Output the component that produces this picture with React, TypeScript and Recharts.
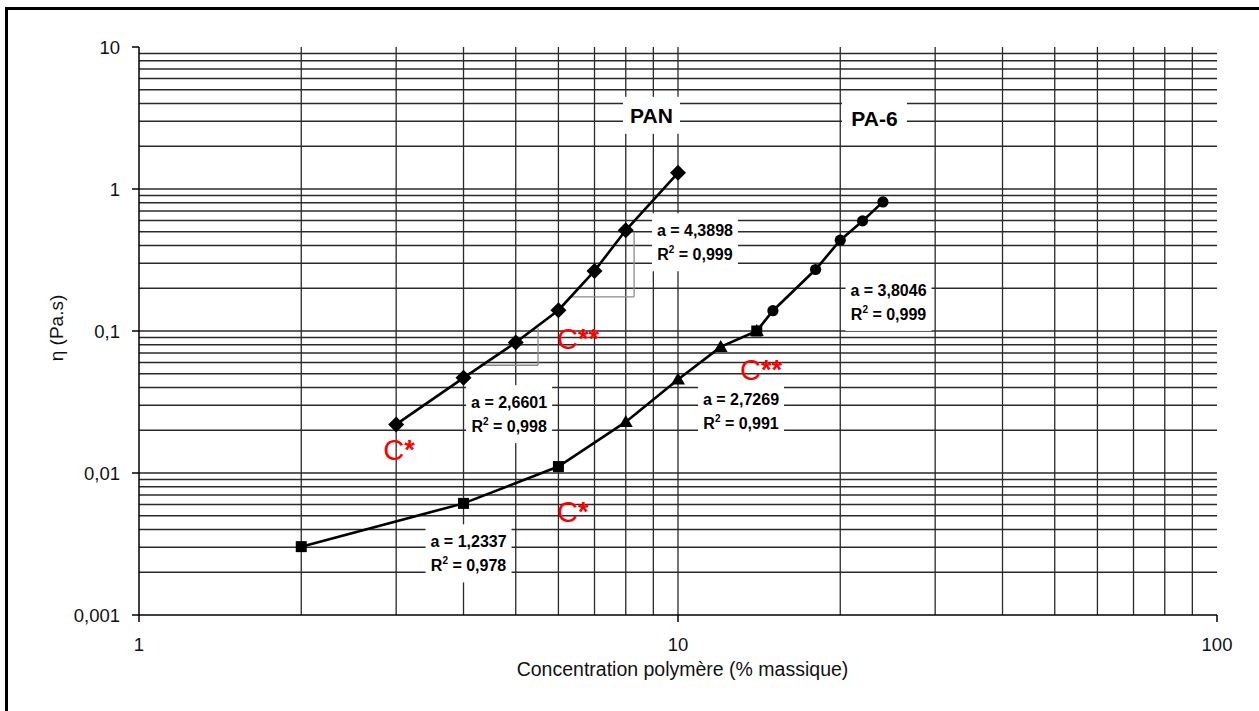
import React from 'react';
import {
  ComposedChart,
  Line,
  Scatter,
  XAxis,
  YAxis,
  ReferenceLine,
  ReferenceDot,
} from 'recharts';

// ---------- data ----------
const panConc = [3, 4, 5, 6, 7, 8, 10];
const panVisc = [0.022, 0.0468, 0.083, 0.14, 0.265, 0.512, 1.3];

const pa6SquareConc = [2, 4, 6, 14];
const pa6SquareVisc = [0.00303, 0.00611, 0.0111, 0.1];
const pa6TriangleConc = [8, 10, 12, 14];
const pa6TriangleVisc = [0.0229, 0.0456, 0.0773, 0.1];
const pa6CircleConc = [15, 18, 20, 22, 24];
const pa6CircleVisc = [0.139, 0.271, 0.436, 0.596, 0.811];

const xTicks = [1, 10, 100];
const yTicks = [0.001, 0.01, 0.1, 1, 10];
const xGrid = [2, 3, 4, 5, 6, 7, 8, 9, 10, 20, 30, 40, 50, 60, 70, 80, 90];
const yGrid = [
  0.002, 0.003, 0.004, 0.005, 0.006, 0.007, 0.008, 0.009,
  0.01, 0.02, 0.03, 0.04, 0.05, 0.06, 0.07, 0.08, 0.09,
  0.1, 0.2, 0.3, 0.4, 0.5, 0.6, 0.7, 0.8, 0.9,
  1, 2, 3, 4, 5, 6, 7, 8, 9,
];

// slope annotations (fit results)
const fitX = [10.75, 4.86, 4.087, 24.58, 13.09];
const fitY = [0.4216, 0.02597, 0.002717, 0.1602, 0.02696];
const fitA = ['4,3898', '2,6601', '1,2337', '3,8046', '2,7269'];
const fitR2 = ['0,999', '0,998', '0,978', '0,999', '0,991'];

// series names
const nameX = [8.93, 23.15];
const nameY = [3.302, 3.119];
const nameText = ['PAN', 'PA-6'];

// critical concentration markers
const critX = [2.838, 5.965, 5.965, 13.03];
const critY = [0.01233, 0.004535, 0.07528, 0.04506];
const critStars = ['*', '*', '**', '**'];

// slope triangles (PAN)
const slope1 = [
  [4.29, 0.0574],
  [5.5, 0.0574],
  [5.5, 0.1046],
];
const slope2 = [
  [6.3, 0.174],
  [8.29, 0.174],
  [8.29, 0.498],
];

const toPoints = (xs: number[], ys: number[]) => xs.map((x, i) => ({ x, y: ys[i] }));

const panData = toPoints(panConc, panVisc);
const pa6Squares = toPoints(pa6SquareConc, pa6SquareVisc);
const pa6Triangles = toPoints(pa6TriangleConc, pa6TriangleVisc);
const pa6Circles = toPoints(pa6CircleConc, pa6CircleVisc);
const pa6Line = [...pa6Squares, ...pa6Triangles, ...pa6Circles]
  .filter((p, i, arr) => arr.findIndex((q) => q.x === p.x) === i)
  .sort((a, b) => a.x - b.x);

const FONT = '"Liberation Sans", Arial, sans-serif';
const GRID = '#2a2a2a';

const Diamond = (p: any) => {
  const { cx, cy } = p;
  const s = 8;
  return <polygon points={`${cx},${cy - s} ${cx + s},${cy} ${cx},${cy + s} ${cx - s},${cy}`} fill="#000" />;
};
const Square = (p: any) => <rect x={p.cx - 5.5} y={p.cy - 5.5} width={11} height={11} fill="#000" />;
const Triangle = (p: any) => {
  const { cx, cy } = p;
  return <polygon points={`${cx},${cy - 7} ${cx + 7},${cy + 5} ${cx - 7},${cy + 5}`} fill="#000" />;
};
const Circle = (p: any) => <circle cx={p.cx} cy={p.cy} r={5.6} fill="#000" />;

const fitLabel = (i: number) => (p: any) => {
  const { cx, cy } = p;
  const w = 86;
  const h = 58;
  return (
    <g>
      <rect x={cx - w / 2} y={cy - h / 2} width={w} height={h} fill="#fff" />
      <text x={cx} y={cy - 12} dy="0.35em" textAnchor="middle" fontFamily={FONT} fontSize={16} fontWeight="bold" fill="#000">
        {`a = ${fitA[i]}`}
      </text>
      <text x={cx} y={cy + 12} dy="0.35em" textAnchor="middle" fontFamily={FONT} fontSize={16} fontWeight="bold" fill="#000">
        R<tspan fontSize={10} dy={-7}>2</tspan>
        <tspan dy={7}>{` = ${fitR2[i]}`}</tspan>
      </text>
    </g>
  );
};

const nameLabel = (i: number) => (p: any) => {
  const { cx, cy } = p;
  const w = i === 0 ? 57 : 65;
  const h = 37;
  return (
    <g>
      <rect x={cx - w / 2} y={cy - h / 2} width={w} height={h} fill="#fff" />
      <text x={cx} y={cy} dy="0.35em" textAnchor="middle" fontFamily={FONT} fontSize={21} fontWeight="bold" fill="#000">
        {nameText[i]}
      </text>
    </g>
  );
};

const critLabel = (i: number) => (p: any) => (
  <text x={p.cx} y={p.cy} textAnchor="start" fontFamily={FONT} fontSize={29} fill="#ff0000">
    C<tspan fontSize={27} fontWeight="bold" dy={-1}>{critStars[i]}</tspan>
  </text>
);

export default function App() {
  return (
    <div style={{ position: 'absolute', left: 0, top: 0, width: 1259, height: 711, overflow: 'hidden', background: '#fff' }}>
      <div
        style={{
          position: 'absolute',
          left: 5,
          top: 7,
          width: 1400,
          height: 900,
          borderLeft: '3px solid #000',
          borderTop: '3px solid #000',
        }}
      />
      <div style={{ position: 'absolute', left: 0, top: 0 }}>
        <ComposedChart width={1259} height={711} margin={{ top: 47, right: 42, bottom: 66, left: 79 }}>
          <XAxis
            dataKey="x"
            type="number"
            scale="log"
            domain={[1, 100]}
            allowDataOverflow
            ticks={xTicks}
            height={30}
            tickSize={7}
            tickMargin={16}
            axisLine={{ stroke: '#000', strokeWidth: 1.5 }}
            tickLine={{ stroke: '#000', strokeWidth: 1.5 }}
            tick={{ fontFamily: FONT, fontSize: 18.5, fill: '#111' }}
          />
          <YAxis
            dataKey="y"
            type="number"
            scale="log"
            domain={[0.001, 10]}
            allowDataOverflow
            ticks={yTicks}
            width={60}
            tickSize={7}
            tickMargin={12}
            tickFormatter={(v: number) => String(v).replace('.', ',')}
            axisLine={{ stroke: '#000', strokeWidth: 1.5 }}
            tickLine={{ stroke: '#000', strokeWidth: 1.5 }}
            tick={{ fontFamily: FONT, fontSize: 18.5, fill: '#111' }}
          />

          {yGrid.map((v) => (
            <ReferenceLine key={`hy${v}`} y={v} stroke={GRID} strokeWidth={1.3} />
          ))}
          {xGrid.map((v) => (
            <ReferenceLine key={`vx${v}`} x={v} stroke={GRID} strokeWidth={1.3} />
          ))}

          {[slope1, slope2].map((s, k) =>
            [0, 1].map((j) => (
              <ReferenceLine
                key={`s${k}${j}`}
                segment={[
                  { x: s[j][0], y: s[j][1] },
                  { x: s[j + 1][0], y: s[j + 1][1] },
                ]}
                stroke="#8a8a8a"
                strokeWidth={1.3}
              />
            ))
          )}

          {fitX.map((x, i) => (
            <ReferenceDot key={`f${i}`} x={x} y={fitY[i]} r={0} shape={fitLabel(i)} />
          ))}
          {nameX.map((x, i) => (
            <ReferenceDot key={`n${i}`} x={x} y={nameY[i]} r={0} shape={nameLabel(i)} />
          ))}

          <Line data={panData} dataKey="y" type="linear" stroke="#000" strokeWidth={2.6} dot={false} isAnimationActive={false} />
          <Line data={pa6Line} dataKey="y" type="linear" stroke="#000" strokeWidth={2.6} dot={false} isAnimationActive={false} />

          <Scatter data={panData} dataKey="y" shape={Diamond} isAnimationActive={false} />
          <Scatter data={pa6Triangles} dataKey="y" shape={Triangle} isAnimationActive={false} />
          <Scatter data={pa6Squares} dataKey="y" shape={Square} isAnimationActive={false} />
          <Scatter data={pa6Circles} dataKey="y" shape={Circle} isAnimationActive={false} />

          {critX.map((x, i) => (
            <ReferenceDot key={`c${i}`} x={x} y={critY[i]} r={0} shape={critLabel(i)} />
          ))}
        </ComposedChart>
      </div>
      <svg width={1259} height={711} style={{ position: 'absolute', left: 0, top: 0, pointerEvents: 'none' }}>
        <text x={682.5} y={676} textAnchor="middle" fontFamily={FONT} fontSize={19.5} fill="#111">
          Concentration polymère (% massique)
        </text>
        <text transform="translate(62.7,328) rotate(-90)" textAnchor="middle" fontFamily={FONT} fontSize={19} fill="#111">
          η (Pa.s)
        </text>
      </svg>
    </div>
  );
}
